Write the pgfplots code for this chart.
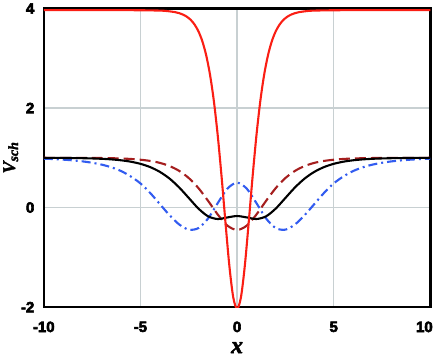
\documentclass[border=0pt]{standalone}
\usepackage{fontspec}
\setmainfont{Liberation Sans}
\newfontfamily\tickfont[FakeBold=4]{Liberation Sans Bold}
\newfontfamily\labfont[FakeBold=2]{Liberation Serif Bold Italic}
\usepackage{pgfplots}
\pgfplotsset{compat=1.18}
\definecolor{cred}{RGB}{250,30,20}
\definecolor{cdred}{RGB}{165,30,30}
\definecolor{cblue}{RGB}{50,92,240}
\definecolor{cgrid}{RGB}{200,208,210}
\begin{document}
\begin{tikzpicture}
\begin{axis}[
scale only axis,
width=387bp, height=299bp,
xmin=-10, xmax=10, ymin=-2, ymax=4,
xtick={-10,-5,0,5,10},
xticklabels={-10,-5,0,5,\hspace*{-12bp}10},
ytick={-2,0,2,4},
yticklabels={-2,0,2,4},
major tick length=0pt,
grid=major,
major grid style={cgrid, line width=1.2bp},
axis line style={line width=2.4bp},
tick label style={font=\tickfont\fontsize{15}{16}\selectfont},
xticklabel style={yshift=-11bp},
yticklabel style={xshift=-6bp},
xlabel={x},
ylabel={V\raisebox{-3bp}{\fontsize{14}{14}\selectfont sch}},
xlabel style={font=\labfont\fontsize{24}{24}\selectfont, yshift=-5bp, inner sep=1.5bp},
ylabel style={font=\labfont\fontsize{18}{18}\selectfont, yshift=-4bp},
every axis plot/.append style={line width=2.1bp},
clip=true,
]
% dark red dashed
\addplot[cdred, dash pattern=on 11bp off 5bp, smooth] coordinates {
(-10,0.9997) (-9,0.9993) (-8,0.9981) (-7.5,0.9968) (-7,0.9947) (-6.5,0.9913) (-6,0.9857) (-5.5,0.9765) (-5,0.961) (-4.5,0.937) (-4,0.898) (-3.5,0.835) (-3,0.738) (-2.5,0.593) (-2,0.391) (-1.5,0.135) (-1,-0.140) (-0.5,-0.363) (0,-0.45)
(0.5,-0.363) (1,-0.140) (1.5,0.135) (2,0.391) (2.5,0.593) (3,0.738) (3.5,0.835) (4,0.898) (4.5,0.937) (5,0.961) (5.5,0.9765) (6,0.9857) (6.5,0.9913) (7,0.9947) (7.5,0.9968) (8,0.9981) (9,0.9993) (10,0.9997)};
% blue dash-dot
\addplot[cblue, dash pattern=on 9bp off 4bp on 2bp off 4bp, smooth] coordinates {
(-10,0.982) (-9.5,0.974) (-9,0.963) (-8.5,0.948) (-8,0.928) (-7.5,0.900) (-7,0.862) (-6.5,0.808) (-6,0.733) (-5.5,0.625) (-5,0.485) (-4.5,0.295) (-4,0.072) (-3.5,-0.151) (-3,-0.338) (-2.5,-0.444) (-2,-0.412) (-1.5,-0.219) (-1,0.090) (-0.5,0.380) (0,0.5)
(0.5,0.380) (1,0.090) (1.5,-0.219) (2,-0.412) (2.5,-0.444) (3,-0.338) (3.5,-0.151) (4,0.072) (4.5,0.295) (5,0.485) (5.5,0.625) (6,0.733) (6.5,0.808) (7,0.862) (7.5,0.900) (8,0.928) (8.5,0.948) (9,0.963) (9.5,0.974) (10,0.982)};
% black solid
\addplot[black, smooth] coordinates {
(-10,0.9986) (-9,0.9966) (-8,0.9917) (-7.5,0.9869) (-7,0.9795) (-6.5,0.9678) (-6,0.9496) (-5.5,0.9215) (-5,0.8784) (-4.5,0.8135) (-4,0.718) (-3.5,0.584) (-3,0.406) (-2.5,0.193) (-2,-0.020) (-1.5,-0.176) (-1,-0.230) (-0.5,-0.198) (0,-0.17)
(0.5,-0.198) (1,-0.230) (1.5,-0.176) (2,-0.020) (2.5,0.193) (3,0.406) (3.5,0.584) (4,0.718) (4.5,0.8135) (5,0.8784) (5.5,0.9215) (6,0.9496) (6.5,0.9678) (7,0.9795) (7.5,0.9869) (8,0.9917) (9,0.9966) (10,0.9986)};
% red solid
\addplot[cred, smooth] coordinates {
(-10,3.965) (-8,3.965) (-6,3.965) (-5,3.964) (-4,3.957) (-3.6,3.947) (-3.2,3.925) (-3,3.906) (-2.8,3.877) (-2.6,3.834) (-2.4,3.771) (-2.2,3.677) (-2,3.541) (-1.8,3.344) (-1.6,3.062) (-1.4,2.668) (-1.2,2.135) (-1,1.445) (-0.8,0.611) (-0.6,-0.304) (-0.4,-1.169) (-0.2,-1.801) (0,-2.035)
(0.2,-1.801) (0.4,-1.169) (0.6,-0.304) (0.8,0.611) (1,1.445) (1.2,2.135) (1.4,2.668) (1.6,3.062) (1.8,3.344) (2,3.541) (2.2,3.677) (2.4,3.771) (2.6,3.834) (2.8,3.877) (3,3.906) (3.2,3.925) (3.6,3.947) (4,3.957) (5,3.964) (6,3.965) (8,3.965) (10,3.965)};
\end{axis}
\end{tikzpicture}
\end{document}
